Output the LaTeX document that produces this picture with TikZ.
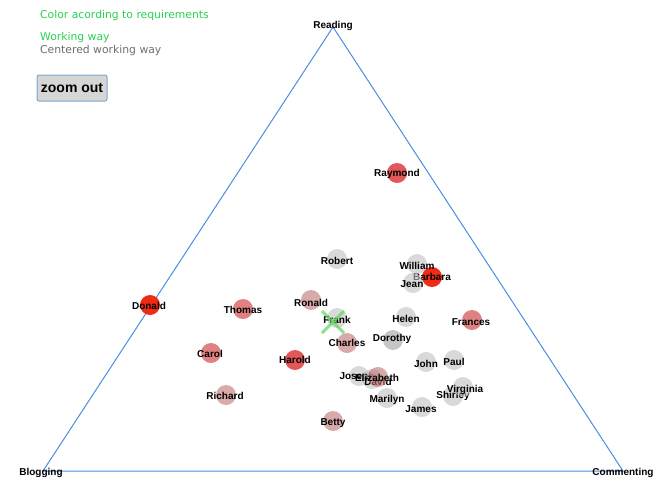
\documentclass[tikz,border=0pt]{standalone}
\usepackage{fontspec}
\setmainfont{Liberation Sans}
\newfontfamily\dejavu{DejaVu Sans}
\definecolor{triblue}{RGB}{74,142,226}
\definecolor{lgreen}{RGB}{40,210,80}
\definecolor{ltext}{RGB}{110,110,110}
\definecolor{cgray}{RGB}{192,192,192}
\definecolor{cdgray}{RGB}{160,160,160}
\definecolor{cpink}{RGB}{192,113,113}
\definecolor{clred}{RGB}{203,45,45}
\definecolor{cmred}{RGB}{226,88,88}
\definecolor{cbred}{RGB}{240,42,20}
\definecolor{btnfill}{RGB}{214,214,214}
\definecolor{btnborder}{RGB}{126,164,216}
\definecolor{xgreen}{RGB}{100,215,100}
\tikzset{
  pc/.style={circle, minimum size=20pt, inner sep=0pt, draw=none},
  pgray/.style={pc, fill=cgray, fill opacity=0.6},
  pdgray/.style={pc, fill=cdgray, fill opacity=0.6},
  ppink/.style={pc, fill=cpink, fill opacity=0.6},
  plred/.style={pc, fill=clred, fill opacity=0.6},
  pmred/.style={pc, fill=cmred},
  pbred/.style={pc, fill=cbred},
  pname/.style={font=\bfseries\fontsize{10}{12}\selectfont, inner sep=0pt, text=black},
  vname/.style={font=\bfseries\fontsize{10}{12}\selectfont, inner sep=0pt, text=black},
  tri/.style={draw=triblue, line width=1pt},
  info/.style={font=\dejavu\fontsize{10.8}{13}\selectfont, inner sep=0pt, anchor=west},
  xmark/.style={draw=xgreen, line width=3pt, opacity=0.75},
}
\begin{document}
\begin{tikzpicture}[x=1pt,y=-1pt]
\useasboundingbox (0,0) rectangle (663,477);
% triangle
\coordinate (vR) at (333,27);
\coordinate (vB) at (43,471);
\coordinate (vC) at (623,471);
\draw[tri] (vR) -- (vB) -- (vC) -- cycle;
\node[vname] (reading) at (333,26) {Reading};
\node[vname] (blogging) at (41,473) {Blogging};
\node[vname] (commenting) at (623,473) {Commenting};
% legend
\node[info, text=lgreen] (t1) at (40,16) {Color acording to requirements};
\node[info, text=lgreen] (t2) at (40,38) {Working way};
\node[info, text=ltext] (t3) at (40,51) {Centered working way};
\node[draw=btnborder, fill=btnfill, line width=1pt, rounded corners=2pt, minimum width=70pt, minimum height=26pt, inner sep=0pt, font=\bfseries\fontsize{14}{16}\selectfont] (zoom) at (72,88) {zoom out};
% people
\node[pmred] (raymond) at (397,173) {};
\node[pname] (raymond-l) at (397,174) {Raymond};
\node[pgray] (robert) at (337,259) {};
\node[pname] (robert-l) at (337,261) {Robert};
\node[pbred] (barbara) at (432,277) {};
\node[pname] (barbara-l) at (432,277) {Barbara};
\node[pgray] (william) at (417,264) {};
\node[pname] (william-l) at (417,266) {William};
\node[pgray] (jean) at (413,283) {};
\node[pname] (jean-l) at (412,284) {Jean};
\node[pbred] (donald) at (150,305) {};
\node[pname] (donald-l) at (149,306) {Donald};
\node[plred] (thomas) at (243,309) {};
\node[pname] (thomas-l) at (243,310) {Thomas};
\node[ppink] (ronald) at (311,300) {};
\node[pname] (ronald-l) at (311,303) {Ronald};
\node[pgray] (frank) at (337,318) {};
\node[pname] (frank-l) at (337,320) {Frank};
\node[pgray] (helen) at (406,317) {};
\node[pname] (helen-l) at (406,319) {Helen};
\node[plred] (frances) at (472,320) {};
\node[pname] (frances-l) at (471,322) {Frances};
\node[ppink] (charles) at (347,343) {};
\node[pname] (charles-l) at (347,343) {Charles};
\node[pdgray] (dorothy) at (393,340) {};
\node[pname] (dorothy-l) at (392,339) {Dorothy};
\node[plred] (carol) at (211,353) {};
\node[pname] (carol-l) at (210,354) {Carol};
\node[pmred] (harold) at (295,360) {};
\node[pname] (harold-l) at (295,360) {Harold};
\node[pgray] (john) at (426,362) {};
\node[pname] (john-l) at (426,364) {John};
\node[pgray] (paul) at (454,360) {};
\node[pname] (paul-l) at (454,362) {Paul};
\node[pgray] (joseph) at (359,376) {};
\node[pname] (joseph-l) at (357,377) {Joseph};
\node[pgray] (david) at (372,379) {};
\node[pname] (david-l) at (378,382) {David};
\node[ppink] (elizabeth) at (378,377) {};
\node[pname] (elizabeth-l) at (377,378) {Elizabeth};
\node[pgray] (shirley) at (453,396) {};
\node[pname] (shirley-l) at (453,396) {Shirley};
\node[pgray] (virginia) at (463,387) {};
\node[pname] (virginia-l) at (465,390) {Virginia};
\node[ppink] (richard) at (226,395) {};
\node[pname] (richard-l) at (225,396) {Richard};
\node[pgray] (marilyn) at (387,398) {};
\node[pname] (marilyn-l) at (387,400) {Marilyn};
\node[pgray] (james) at (422,407) {};
\node[pname] (james-l) at (421,409) {James};
\node[ppink] (betty) at (333,421) {};
\node[pname] (betty-l) at (333,423) {Betty};
% green cross
\coordinate (fx) at (333,322);
\draw[xmark] ([shift={(-11,-11)}]fx) -- ([shift={(11,11)}]fx);
\draw[xmark] ([shift={(-11,11)}]fx) -- ([shift={(11,-11)}]fx);
\end{tikzpicture}
\end{document}
